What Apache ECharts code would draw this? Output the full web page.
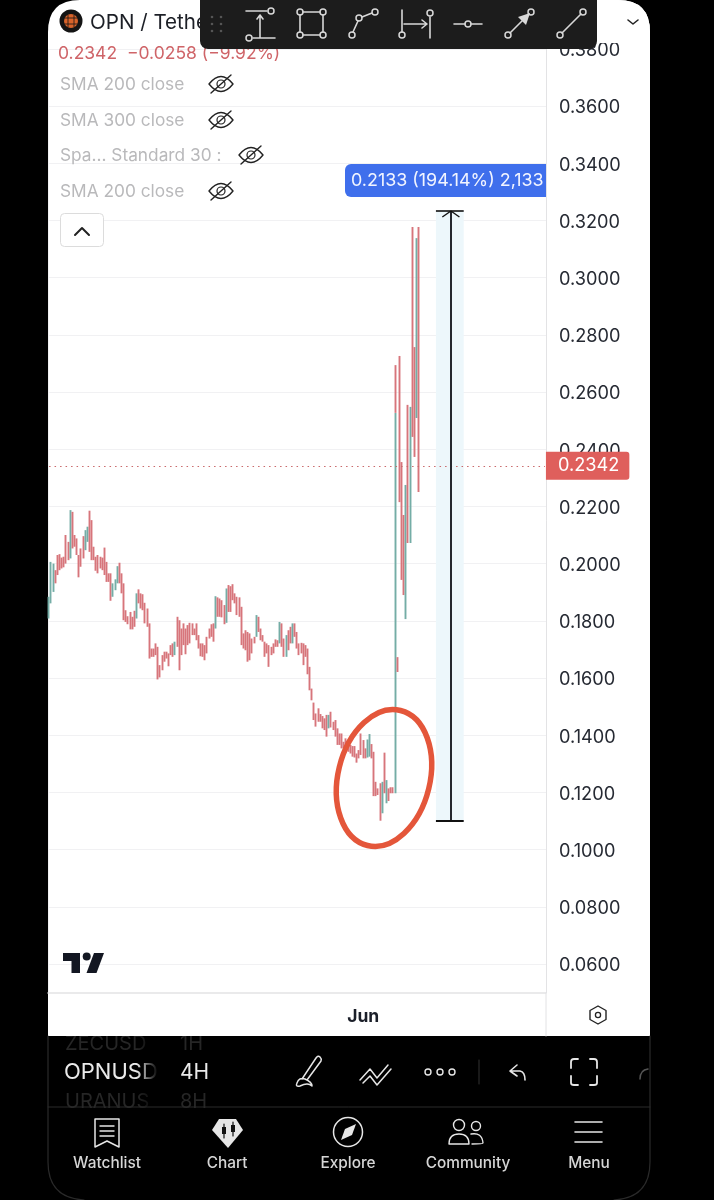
<!DOCTYPE html>
<html><head><meta charset="utf-8">
<style>html,body{margin:0;padding:0;background:#000}#c{width:714px;height:1200px}</style>
<script src="https://cdn.jsdelivr.net/npm/echarts@6/dist/echarts.min.js"></script>
</head><body><div id="c"></div>
<script>
const highs=[.1884,.2006,.2000,.1977,.2030,.2033,.2021,.2024,.2100,.2076,.2187,.2181,.2100,.2088,.2030,.2053,.2096,.2117,.2129,.2185,.2152,.2059,.2024,.2030,.2024,.2021,.2056,.2006,.1966,.1966,.1931,.1945,.1991,.2003,.1966,.1931,.1837,.1816,.1831,.1814,.1835,.1896,.1910,.1896,.1893,.1863,.1843,.1791,.1703,.1703,.1721,.1709,.1645,.1680,.1692,.1692,.1686,.1715,.1721,.1727,.1814,.1802,.1773,.1791,.1773,.1785,.1793,.1791,.1773,.1791,.1750,.1721,.1721,.1715,.1744,.1773,.1788,.1791,.1886,.1882,.1878,.1872,.1855,.1913,.1925,.1921,.1928,.1896,.1884,.1882,.1849,.1756,.1767,.1761,.1756,.1738,.1744,.1820,.1814,.1773,.1750,.1727,.1721,.1715,.1709,.1721,.1735,.1732,.1796,.1791,.1738,.1750,.1767,.1779,.1791,.1791,.1761,.1721,.1723,.1721,.1715,.1703,.1639,.1563,
.1514,.1476,.1494,.1474,.1467,.1459,.1471,.1471,.1482,.1447,.1453,.1424,.1406,.1406,.1377,.1389,.1383,.1366,.1362,.1362,.1336,.1348,.1406,.1383,.1354,.1385,.1404,.1369,.1342,.1237,.1214,.1232,.1237,.1339,.1243,.1214,.1218,.1218,.2527,.1673,.2726,.2355,.2170,.2275,.2555,.2548,.3177,.2757,.3138,.3177];
const lows=[.1808,.1861,.1901,.1931,.1960,.1977,.1983,.1987,.2000,.2012,.2018,.2053,.2059,.2030,.1952,.1989,.2018,.2047,.2076,.2041,.2012,.2012,.1975,.1966,.1983,.1977,.1960,.1936,.1936,.1870,.1884,.1907,.1931,.1931,.1896,.1802,.1796,.1788,.1770,.1770,.1779,.1808,.1861,.1843,.1837,.1791,.1779,.1668,.1674,.1674,.1680,.1595,.1602,.1627,.1657,.1668,.1641,.1680,.1674,.1680,.1709,.1627,.1680,.1715,.1683,.1715,.1721,.1750,.1750,.1732,.1703,.1676,.1674,.1662,.1686,.1738,.1744,.1727,.1773,.1814,.1814,.1812,.1788,.1793,.1831,.1831,.1872,.1861,.1820,.1814,.1715,.1703,.1697,.1657,.1662,.1686,.1721,.1744,.1761,.1732,.1727,.1674,.1686,.1639,.1680,.1686,.1709,.1709,.1721,.1709,.1674,.1674,.1697,.1721,.1721,.1744,.1703,.1680,.1686,.1645,.1674,.1613,.1557,.1522,
.1453,.1430,.1447,.1447,.1424,.1418,.1395,.1424,.1427,.1418,.1395,.1366,.1366,.1354,.1354,.1348,.1342,.1336,.1325,.1322,.1304,.1319,.1331,.1319,.1319,.1322,.1325,.1319,.1187,.1187,.1191,.1101,.1127,.1197,.1162,.1170,.1197,.1197,.1197,.1621,.2215,.1943,.1890,.1806,.2072,.2072,.2443,.2373,.2509,.2250];
const upBars=[0,1,2,10,17,18,30,31,32,41,59,78,83,97,108,111,114,131,149,150,156,158,162,167,169,172];
const lastClose=0.2342;
const spikeIndex=162, spikeTop=[.2694,.2527,.2527,.2694];
const priceTicks=[.06,.08,.10,.12,.14,.16,.18,.20,.22,.24,.26,.28,.30,.32,.34,.36,.38];
const slotCount=233, junIndex=147;
const categories=Array.from({length:slotCount},(_,i)=>i===junIndex?'Jun':'');
const measureLow=0.1100, measureHigh=0.3233, arrowFoot=0.3212;
const legendRows=['SMA 200 close','SMA 300 close','Spa... Standard 30 :','SMA 200 close'];
const navItems=['Watchlist','Chart','Explore','Community','Menu'];

const ohlc=highs.map((h,i)=>{const up=upBars.includes(i);
  const close=i===highs.length-1?lastClose:(up?h:lows[i]);
  return [up?lows[i]:h,close,lows[i],h];});
const spike=highs.map((h,i)=>i===spikeIndex?spikeTop:['-','-','-','-']);

const SANS='Inter, "Liberation Sans", sans-serif';
const P=(d,stroke,w,fill)=>({type:'path',shape:{pathData:d},style:{stroke:stroke||null,lineWidth:w||1,fill:fill||null,lineCap:'round',lineJoin:'round'}});
const C=(x,y,r,stroke,w,fill)=>({type:'circle',shape:{cx:x,cy:y,r},style:{stroke:stroke||null,lineWidth:w||1,fill:fill||null}});
const R=(x,y,w,h,fill,r,stroke)=>({type:'rect',shape:{x,y,width:w,height:h,r:r||0},style:{fill:fill,stroke:stroke||null,lineWidth:1}});
const T=(text,x,y,size,color,align,weight)=>({type:'text',style:{text,x,y:y+1.5,font:(weight||'400')+' '+size+'px '+SANS,fill:color,align:align||'left',verticalAlign:'middle'}});
const eye=(x,y)=>[
  P(`M${x-12} ${y} Q${x} ${y-15} ${x+12} ${y} Q${x} ${y+15} ${x-12} ${y} Z`,'#222',1.4,null),
  C(x,y,4,'#222',1.2,null),
  P(`M${x-10} ${y+9} L${x+10} ${y-9}`,'#222',1.4)];
const tc='#d8d8d8';
const back=[P('M48 1036 L48 32 Q48 0 80 0 L618 0 Q650 0 650 32 L650 1036 Z',null,1,'#fff')];
const g=[];
// lower frame outline
g.push(P('M48 1036 L48 1162 Q48 1198 84 1200 M650 1036 L650 1162 Q650 1198 614 1200','#2a2a2a',1.2,null));
// header
g.push(C(71,21,11.5,null,1,'#141414'),C(71,21,7,null,1,'#d8632a'),
  P('M64 18 H78 M64 24 H78 M68 15 V27 M74 15 V27','#141414',.8));
g.push(T('OPN / Tethe',90,21,20.6,'#1c1f26'));
g.push(T('0.2342  \u22120.0258 (\u22129.92%)',58,52,17.5,'#cf6468'));
[84,120,155,191].forEach((y,i)=>g.push(T(legendRows[i],60,y-1,17.3,'#b9b9bb')));
g.push(...eye(221,84),...eye(221,120),...eye(251,155),...eye(221,191));
g.push(R(60.5,213.5,43,33,'#fff',4,'#dcdcdc'),P('M75 235 L82 228 L89 235','#222',2));
// blue measure label
g.push(R(345,164,201,33,'#3f6fec',[6,0,0,6]),T('0.2133 (194.14%) 2,133',351,179.5,17.9,'#f2f5ff'));
// top-right header cover
g.push(P('M597 0 L618 0 Q650 0 650 32 L650 43 L597 43 Z',null,1,'#fff'),
  P('M628 20 L633 24 L638 20','#222',1.6));
// toolbar
g.push(R(200,-10,397,59,'#1c1c1c',8));
[17,24,31].forEach(y=>{g.push(C(212,y,1.3,null,1,'#555'),C(221,y,1.3,null,1,'#555'));});
g.push(P('M246 11 H267 M253 38 H275 M260 38 V16 M257 19 L260 15 L263 19',tc,1.6),C(271,11,3,tc,1.5),C(249,38,3,tc,1.5));
g.push(P('M303 12 H320 M303 35 H320 M300 15 V32 M323 15 V32',tc,1.6),C(300,12,3,tc,1.5),C(323,12,3,tc,1.5),C(300,35,3,tc,1.5),C(323,35,3,tc,1.5));
g.push(P('M353 32 L358 21 M362 17 L372 13',tc,1.6),C(352,35,3,tc,1.5),C(359,18,3,tc,1.5),C(375,12,3,tc,1.5));
g.push(P('M402 10 V32 M404 24 H426 M422 20 L427 24 L422 28 M430 17 V38',tc,1.6),C(402,35,3,tc,1.5),C(430,13,3,tc,1.5));
g.push(P('M454 24 H465 M471 24 H482',tc,1.6),C(468,24,3,tc,1.5));
g.push(P('M510 33 L529 14',tc,1.6),P('M518 17 L530 13 L526 25 Z',null,1,tc),C(508,35,3,tc,1.5),C(531,12,3,tc,1.5));
g.push(P('M562 33 L581 14',tc,1.6),C(560,35,3,tc,1.5),C(583,12,3,tc,1.5));
// circle annotation
const rx=46, ry=69.5, kx=rx*.5523, ky=ry*.5523;
g.push({type:'path',x:384,y:778,rotation:-0.24,
  shape:{pathData:`M0 ${-ry} C${kx} ${-ry} ${rx} ${-ky} ${rx} 0 C${rx} ${ky} ${kx} ${ry} 0 ${ry} C${-kx} ${ry} ${-rx} ${ky} ${-rx} 0 C${-rx} ${-ky} ${-kx} ${-ry} 0 ${-ry} Z`},
  style:{stroke:'#e4563a',lineWidth:5.5,fill:null}});
// TV logo
g.push(P('M63 953 H80 V973 H71.5 V961 H63 Z',null,1,'#131722'),C(86.7,956.5,4,null,1,'#131722'),P('M94 953 H104 L96.5 973 H86.5 Z',null,1,'#131722'));
// bottom strip
g.push(P('M546 993 V1036','#e2e2e4',1),P('M598 1006 L606 1010.5 V1019.5 L598 1024 L590 1019.5 V1010.5 Z','#222',1.4),C(598,1015,2.6,'#222',1.3));
// bottom bar
g.push(T('ZECUSD',65,1042,20,'#262626'),T('OPNUSD',64,1071,22,'#eaeaea'),T('URANUS',65,1100,20,'#262626'));
g.push({type:'rect',shape:{x:137,y:1036,width:38,height:72},style:{fill:{type:'linear',x:0,y:0,x2:1,y2:0,colorStops:[{offset:0,color:'rgba(0,0,0,0)'},{offset:.55,color:'#000'},{offset:1,color:'#000'}]}}});
g.push(T('1H',180,1042,20,'#262626'),T('4H',180,1071,21,'#eaeaea'),T('8H',180,1100,20,'#262626'));
g.push(R(60,1028,160,8,'#fff'));
const wc='#e6e6e6';
g.push(P('M297 1083 Q299 1077 305 1079 Q312 1082 312 1086 Q308 1082 300 1086 Q295 1087 297 1083 M302 1079 L316 1058 Q318 1055 320 1057 Q322 1059 321 1061 L307 1080',wc,1.5));
g.push(P('M360 1080 L370 1069 L377 1078 L388 1065 M363 1083 L370 1076 L377 1085 L391 1069',wc,1.5));
g.push(C(428,1072,3,wc,1.4),C(440,1072,3,wc,1.4),C(452,1072,3,wc,1.4));
g.push(P('M479 1060 V1084','#333',1));
g.push(P('M510 1071 L517 1065 M510 1071 L517 1076 M511 1071 H520 Q525 1072 525 1080',wc,1.6));
g.push(P('M571 1068 V1062 Q571 1059 574 1059 H578 M590 1059 H594 Q597 1059 597 1062 V1068 M597 1076 V1083 Q597 1085 594 1085 H590 M578 1085 H574 Q571 1085 571 1083 V1076',wc,1.8));
g.push(P('M640 1079 Q640 1070 648 1069','#555',1.5));
g.push(P('M48 1107 H650','#2a2a2a',1));
const nx=[107,227,348,468,589];
navItems.forEach((t,i)=>g.push(T(t,nx[i],1162,15.4,'#d6d6d6','center','500')));
// nav icons
g.push(P('M95 1119 H119 V1147 L107 1141 L95 1147 Z',wc,1.5),P('M100 1126 H114 M100 1131 H114 M100 1136 H114',wc,1.4));
g.push(P('M219 1119 H236 L243 1130 L228 1148 L212 1130 Z',null,1,wc),P('M224 1124 V1138 M233 1122 V1136','#111',1.2),R(222,1127,4,7,'#111'),R(231,1125,4,7,'#111'));
g.push(C(348,1132,14.5,wc,1.5),P('M341 1140 L345 1129 L356 1124 L352 1135 Z',null,1,wc));
g.push(C(459,1125,5.5,wc,1.4),C(476,1126,4.5,wc,1.4),P('M449 1144 Q449 1134 459 1134 Q469 1134 469 1144 Z M471 1134 Q482 1132 483 1143 Q483 1144 472 1144',wc,1.4));
g.push(P('M575 1122 H602 M575 1132 H602 M575 1142 H602',wc,1.6));

const RED='#d7757b', TEAL='#74ada6';
const option={
  backgroundColor:'#000',animation:false,
  grid:{left:48,right:168,top:48.8,bottom:207.4,containLabel:false},
  xAxis:{type:'category',data:categories,boundaryGap:true,
    axisLine:{lineStyle:{color:'#e3e3e5',width:1.5}},axisTick:{show:false},
    axisLabel:{interval:0,margin:15,fontSize:17.5,fontWeight:700,color:'#1b1f29',fontFamily:SANS,align:'center',hideOverlap:false},
    splitLine:{show:true,interval:(i)=>i===junIndex,lineStyle:{color:'#f0f0f2',width:1}}},
  yAxis:{type:'value',position:'right',min:0.05,max:0.38,scale:false,
    axisLine:{show:true,lineStyle:{color:'#e3e3e5',width:1}},
    axisTick:{show:false,customValues:priceTicks},
    axisLabel:{customValues:priceTicks,margin:13,fontSize:18.2,color:'#262a33',fontFamily:SANS,verticalAlign:'top',lineHeight:4,formatter:v=>v.toFixed(4),showMinLabel:true,showMaxLabel:true},
    splitLine:{show:true,lineStyle:{color:'#f1f1f3',width:1}}},
  series:[{
    type:'custom',coordinateSystem:'none',z:-1,silent:true,data:[0],
    renderItem:()=>({type:'group',children:back})
  },{
    type:'candlestick',data:ohlc,barWidth:1,clip:true,
    itemStyle:{color:TEAL,color0:RED,borderColor:TEAL,borderColor0:RED,borderWidth:1.9,borderColorDoji:RED},
    markArea:{silent:true,itemStyle:{color:'#edf7fb'},data:[[{xAxis:181,yAxis:measureHigh},{xAxis:194,yAxis:measureLow}]]},
    markLine:{silent:true,symbol:'none',animation:false,
      data:[
       [{coord:[0,lastClose],lineStyle:{color:'#c9686a',type:[1.5,4],width:1.2}},{coord:[232,lastClose],label:{show:true,position:'end',distance:1,formatter:lastClose.toFixed(4),color:'#fff',fontSize:18.2,fontFamily:SANS,backgroundColor:'#df5f5c',padding:[6,10,4,12],borderRadius:[0,3,3,0]}}],
       [{coord:[188,measureLow],lineStyle:{color:'#24272e',width:2,type:'solid'}},{coord:[188,measureHigh],label:{show:false}}],
       [{coord:[181,measureLow],lineStyle:{color:'#111',width:2,type:'solid'}},{coord:[194,measureLow],label:{show:false}}],
       [{coord:[181,measureHigh],lineStyle:{color:'#111',width:1.6,type:'solid'}},{coord:[194,measureHigh],label:{show:false}}],
       [{coord:[184,arrowFoot],lineStyle:{color:'#111',width:1.4,type:'solid'}},{coord:[188,measureHigh],label:{show:false}}],
       [{coord:[192,arrowFoot],lineStyle:{color:'#111',width:1.4,type:'solid'}},{coord:[188,measureHigh],label:{show:false}}]
      ]}
  },{
    type:'candlestick',data:spike,barWidth:1,
    itemStyle:{color:RED,color0:RED,borderColor:RED,borderColor0:RED,borderWidth:1.9}
  },{
    type:'custom',coordinateSystem:'none',z:50,silent:true,data:[0],
    renderItem:()=>({type:'group',children:g})
  }]
};
const chart=echarts.init(document.getElementById('c'),null,{width:714,height:1200,renderer:'canvas'});
chart.setOption(option);
</script></body></html>
